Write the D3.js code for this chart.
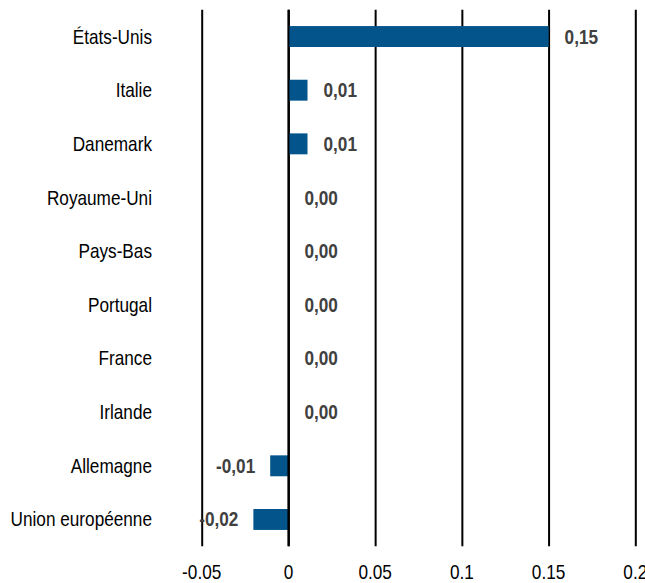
<!DOCTYPE html>
<html>
<head>
<meta charset="utf-8">
<script src="https://cdn.jsdelivr.net/npm/d3@7"></script>
<style>
  body { margin: 0; background: #fff; }
  text { font-family: "Liberation Sans Narrow", "Arial Narrow", "Liberation Sans", Arial, sans-serif; }
</style>
</head>
<body>
<svg id="chart" width="645" height="583"></svg>
<script>
var countries = ['États-Unis', 'Italie', 'Danemark', 'Royaume-Uni', 'Pays-Bas',
  'Portugal', 'France', 'Irlande', 'Allemagne', 'Union européenne']
var values = [0.15, 0.011, 0.011, 0, 0, 0, 0, 0, -0.0105, -0.0202]
var valueLabels = ['0,15', '0,01', '0,01', '0,00', '0,00', '0,00', '0,00', '0,00', '-0,01', '-0,02']
var xTicks = [-0.05, 0, 0.05, 0.1, 0.15, 0.2]
var xTickLabels = ['-0.05', '0', '0.05', '0.1', '0.15', '0.2']

var barColor = '#02548a', labelGrey = '#404040'
var plotTop = 9.7, plotBottom = 546.3
// no narrow font installed, so squeeze the regular one
var squeeze = 0.86

var svg = d3.select('#chart')

var x = d3.scaleLinear().domain([-0.05, 0.2]).range([201.7, 635.3])
var y = d3.scaleBand().domain(countries).range([plotTop, plotBottom])
  .paddingInner(0.61).paddingOuter(0.305)

function place(px, py) {
  return 'translate(' + px + ',' + py + ') scale(' + squeeze + ',1)'
}

// vertical grid lines
var xAxis = d3.axisBottom(x)
  .tickValues(xTicks)
  .tickFormat('')
  .tickSize(-(plotBottom - plotTop))

var gx = svg.append('g')
  .attr('transform', 'translate(0,' + plotBottom + ')')
  .call(xAxis)
gx.select('.domain').remove()
gx.selectAll('.tick line').attr('stroke', '#000').attr('stroke-width', 2)

// bottom tick labels
svg.selectAll('text.tick-label')
  .data(xTicks)
  .enter()
  .append('text')
  .attr('class', 'tick-label')
  .attr('transform', d => place(x(d), 579))
  .attr('text-anchor', 'middle')
  .attr('fill', '#000')
  .style('font-size', '20px')
  .text((d, i) => xTickLabels[i])

// bars
svg.selectAll('rect.bar')
  .data(values)
  .enter()
  .append('rect')
  .attr('class', 'bar')
  .attr('x', d => x(Math.min(0, d)))
  .attr('y', (d, i) => y(countries[i]))
  .attr('width', d => Math.abs(x(d) - x(0)))
  .attr('height', y.bandwidth())
  .attr('fill', barColor)

// zero line on top of bars
svg.append('line')
  .attr('x1', x(0)).attr('x2', x(0))
  .attr('y1', plotTop).attr('y2', plotBottom)
  .attr('stroke', '#000').attr('stroke-width', 2)

// category labels
svg.selectAll('text.cat')
  .data(countries)
  .enter()
  .append('text')
  .attr('class', 'cat')
  .attr('transform', d => place(152, y(d) + y.bandwidth() / 2))
  .attr('dy', '0.35em')
  .attr('text-anchor', 'end')
  .attr('fill', '#000')
  .style('font-size', '20px')
  .text(d => d)

// value labels
svg.selectAll('text.val')
  .data(values)
  .enter()
  .append('text')
  .attr('class', 'val')
  .attr('transform', (d, i) => place(d < 0 ? x(d) - 15 : x(d) + 16, y(countries[i]) + y.bandwidth() / 2))
  .attr('dy', '0.35em')
  .attr('text-anchor', d => d < 0 ? 'end' : 'start')
  .attr('fill', labelGrey)
  .style('font-size', '20px')
  .style('font-weight', 'bold')
  .text((d, i) => valueLabels[i])
</script>
</body>
</html>
